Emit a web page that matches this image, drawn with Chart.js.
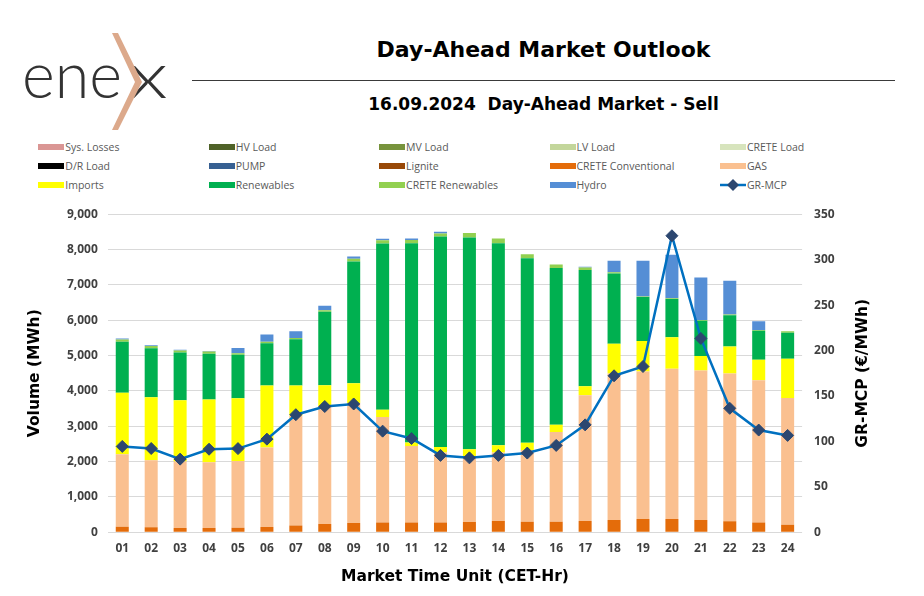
<!DOCTYPE html>
<html>
<head>
<meta charset="utf-8">
<script src="https://cdn.jsdelivr.net/npm/chart.js@4/dist/chart.umd.min.js"></script>
<style>
  html, body { margin: 0; padding: 0; background: #fff; }
  body { width: 924px; height: 596px; position: relative; overflow: hidden; font-family: "DejaVu Sans", sans-serif; }
  #logo { position: absolute; left: 0; top: 0; }
  #title { position: absolute; left: 192px; width: 703px; top: 36px; text-align: center; font: bold 22px "DejaVu Sans", sans-serif; color: #000; line-height: 28px; }
  #rule { position: absolute; left: 192px; width: 703px; top: 80px; border-top: 1.5px solid #3a3a3a; }
  #subtitle { position: absolute; left: 192px; width: 703px; top: 93px; text-align: center; font: bold 17px "DejaVu Sans", sans-serif; color: #000; line-height: 22px; white-space: pre; }
  #legend { position: absolute; left: 0; top: 0; width: 924px; height: 200px; }
  .li { position: absolute; height: 14px; font: 10.5px "Open Sans", sans-serif; color: #595959; line-height: 14px; white-space: nowrap; }
  .sw { position: absolute; left: 0; top: 4px; width: 26px; height: 6px; }
  .lt { position: absolute; left: 27px; top: 0; }
  #wrap { position: absolute; left: 0; top: 195px; width: 924px; height: 401px; }
</style>
</head>
<body>
<svg id="logo" width="200" height="140" viewBox="0 0 200 140">
  <text x="22" y="98" font-family="Lato, 'Open Sans', sans-serif" font-weight="300" font-size="66" fill="#333333" textLength="100" lengthAdjust="spacingAndGlyphs">ene</text>
  <text x="128" y="98" font-family="Lato, 'Open Sans', sans-serif" font-weight="300" font-size="66" fill="#333333" textLength="40" lengthAdjust="spacingAndGlyphs">x</text>
  <polygon points="112,33 118,33 142,82 118,130 112,130 135,82" fill="#DCA98B"/>
</svg>
<div id="title">Day-Ahead Market Outlook</div>
<div id="rule"></div>
<div id="subtitle">16.09.2024  Day-Ahead Market - Sell</div>
<div id="legend"></div>
<div id="wrap"><canvas id="c" width="924" height="401"></canvas></div>
<script>
// ---------- data ----------
const categories = ['01','02','03','04','05','06','07','08','09','10','11','12','13','14','15','16','17','18','19','20','21','22','23','24'];
const sysLosses = [0,0,0,0,0,0,0,0,0,0,0,0,0,0,0,0,0,0,0,0,0,0,0,0];
const hvLoad = [0,0,0,0,0,0,0,0,0,0,0,0,0,0,0,0,0,0,0,0,0,0,0,0];
const mvLoad = [0,0,0,0,0,0,0,0,0,0,0,0,0,0,0,0,0,0,0,0,0,0,0,0];
const lvLoad = [0,0,0,0,0,0,0,0,0,0,0,0,0,0,0,0,0,0,0,0,0,0,0,0];
const creteLoad = [0,0,0,0,0,0,0,0,0,0,0,0,0,0,0,0,0,0,0,0,0,0,0,0];
const drLoad = [0,0,0,0,0,0,0,0,0,0,0,0,0,0,0,0,0,0,0,0,0,0,0,0];
const pump = [0,0,0,0,0,0,0,0,0,0,0,0,0,0,0,0,0,0,0,0,0,0,0,0];
const lignite = [0,0,0,0,0,0,0,0,0,0,0,0,0,0,0,0,0,0,0,0,0,0,0,0];
const creteConventional = [160,140,120,120,130,150,190,235,265,280,280,280,290,320,300,300,320,350,375,375,350,310,275,215];
const gas = [2050,1900,1880,1860,1890,2250,3110,3335,3390,2980,2165,1975,1860,1935,2030,2540,3555,4140,4175,4250,4230,4185,4025,3585];
const imports = [1740,1780,1735,1780,1770,1750,855,590,560,205,95,160,200,205,205,205,255,845,865,895,405,760,585,1110];
const renewables = [1440,1385,1355,1290,1230,1200,1305,2080,3450,4705,5635,5955,5990,5720,5220,4430,3290,1985,1240,1080,1000,885,820,735];
const creteRenewables = [65,65,55,65,45,40,40,40,75,95,95,85,125,130,115,105,75,40,20,20,20,20,20,40];
const hydro = [25,20,20,15,150,205,190,130,65,40,40,45,0,0,0,0,15,320,1005,1230,1205,960,245,0];
const grMcp = [94.5,92.2,80.5,91.4,92.1,102.5,129.4,138.4,141.2,111.3,103.2,84.6,81.9,84.6,87.2,95.6,118.2,172.2,182.4,326.3,213.3,136.4,112.5,106.6];
const volumeTicks = [0,1000,2000,3000,4000,5000,6000,7000,8000,9000];
const priceTicks = [0,50,100,150,200,250,300,350];

// ---------- chart ----------
function bar(label, data, color) {
  return { type: 'bar', label: label, data: data, backgroundColor: color, borderWidth: 0, yAxisID: 'y', stack: 's', order: 1, barPercentage: 0.45, categoryPercentage: 1 };
}
const datasets = [
  bar('Sys. Losses', sysLosses, '#DA9694'),
  bar('HV Load', hvLoad, '#4F6228'),
  bar('MV Load', mvLoad, '#77933C'),
  bar('LV Load', lvLoad, '#C3D69B'),
  bar('CRETE Load', creteLoad, '#D7E4BD'),
  bar('D/R Load', drLoad, '#000000'),
  bar('PUMP', pump, '#376092'),
  bar('Lignite', lignite, '#984807'),
  bar('CRETE Conventional', creteConventional, '#E46C0A'),
  bar('GAS', gas, '#FAC090'),
  bar('Imports', imports, '#FFFF00'),
  bar('Renewables', renewables, '#00B050'),
  bar('CRETE Renewables', creteRenewables, '#92D050'),
  bar('Hydro', hydro, '#558ED5'),
  { type: 'line', label: 'GR-MCP', data: grMcp, yAxisID: 'y1', order: 0,
    borderColor: '#0070C0', borderWidth: 2.5, tension: 0,
    pointStyle: 'rectRot', pointRadius: 6, pointBorderWidth: 1,
    pointBackgroundColor: '#2C4770', pointBorderColor: '#2C4770' }
];

const tickFont = { family: "'Open Sans', sans-serif", size: 12, weight: 'bold' };
const titleFont = { family: "'DejaVu Sans', sans-serif", size: 15.5, weight: 'bold' };

const rightTitle = {
  id: 'rightTitle',
  afterDraw(chart) {
    const ctx = chart.ctx;
    const a = chart.chartArea;
    ctx.save();
    ctx.translate(863, (a.top + a.bottom) / 2);
    ctx.rotate(-Math.PI / 2);
    ctx.font = 'bold 15.5px "DejaVu Sans", sans-serif';
    ctx.fillStyle = '#000';
    ctx.textAlign = 'center';
    ctx.textBaseline = 'middle';
    ctx.fillText('GR-MCP (€/MWh)', 0, 0);
    ctx.restore();
  }
};

const chart = new Chart(document.getElementById('c'), {
  data: { labels: categories, datasets: datasets },
  options: {
    responsive: false,
    animation: false,
    layout: { padding: { top: 18, left: 0, right: 0, bottom: 0 } },
    plugins: { legend: { display: false }, tooltip: { enabled: false } },
    scales: {
      x: {
        stacked: true,
        grid: { display: false, drawTicks: false },
        border: { display: false },
        ticks: { font: tickFont, color: '#404040', padding: 9, maxRotation: 0, autoSkip: false },
        title: { display: true, text: 'Market Time Unit (CET-Hr)', font: titleFont, color: '#000', padding: { top: 0, bottom: 9.5 } },
        afterFit(s) { s.height = 63.7; }
      },
      y: {
        stacked: true,
        position: 'left',
        min: volumeTicks[0], max: volumeTicks[volumeTicks.length - 1],
        afterBuildTicks(s) { s.ticks = volumeTicks.map(v => ({ value: v })); },
        ticks: { font: tickFont, color: '#404040', padding: 10, callback: v => v.toLocaleString('en-US') },
        grid: { color: '#D9D9D9', lineWidth: 1, drawTicks: false },
        border: { display: false },
        title: { display: true, text: 'Volume (MWh)', font: titleFont, color: '#000', padding: { top: 26, bottom: 0 } },
        afterFit(s) { s.width = 107.8; }
      },
      y1: {
        position: 'right',
        min: priceTicks[0], max: priceTicks[priceTicks.length - 1],
        afterBuildTicks(s) { s.ticks = priceTicks.map(v => ({ value: v })); },
        ticks: { font: tickFont, color: '#404040', padding: 12 },
        grid: { display: false, drawTicks: false },
        border: { display: false },
        afterFit(s) { s.width = 121.9; }
      }
    }
  },
  plugins: [rightTitle]
});

// ---------- HTML legend built from the datasets ----------
const legend = document.getElementById('legend');
chart.data.datasets.forEach((ds, i) => {
  const col = i % 5, row = Math.floor(i / 5);
  const item = document.createElement('div');
  item.className = 'li';
  item.style.left = (38.3 + col * 170.4) + 'px';
  item.style.top = (139.5 + row * 19.2) + 'px';
  let sw;
  if (ds.type === 'line') {
    sw = '<svg class="sw" style="top:0;height:14px" width="26" height="14"><line x1="0" y1="7" x2="26" y2="7" stroke="' + ds.borderColor + '" stroke-width="2.5"/><polygon points="13,1 19,7 13,13 7,7" fill="' + ds.pointBackgroundColor + '"/></svg>';
  } else {
    sw = '<div class="sw" style="background:' + ds.backgroundColor + '"></div>';
  }
  item.innerHTML = sw + '<span class="lt">' + ds.label + '</span>';
  legend.appendChild(item);
});
</script>
</body>
</html>
